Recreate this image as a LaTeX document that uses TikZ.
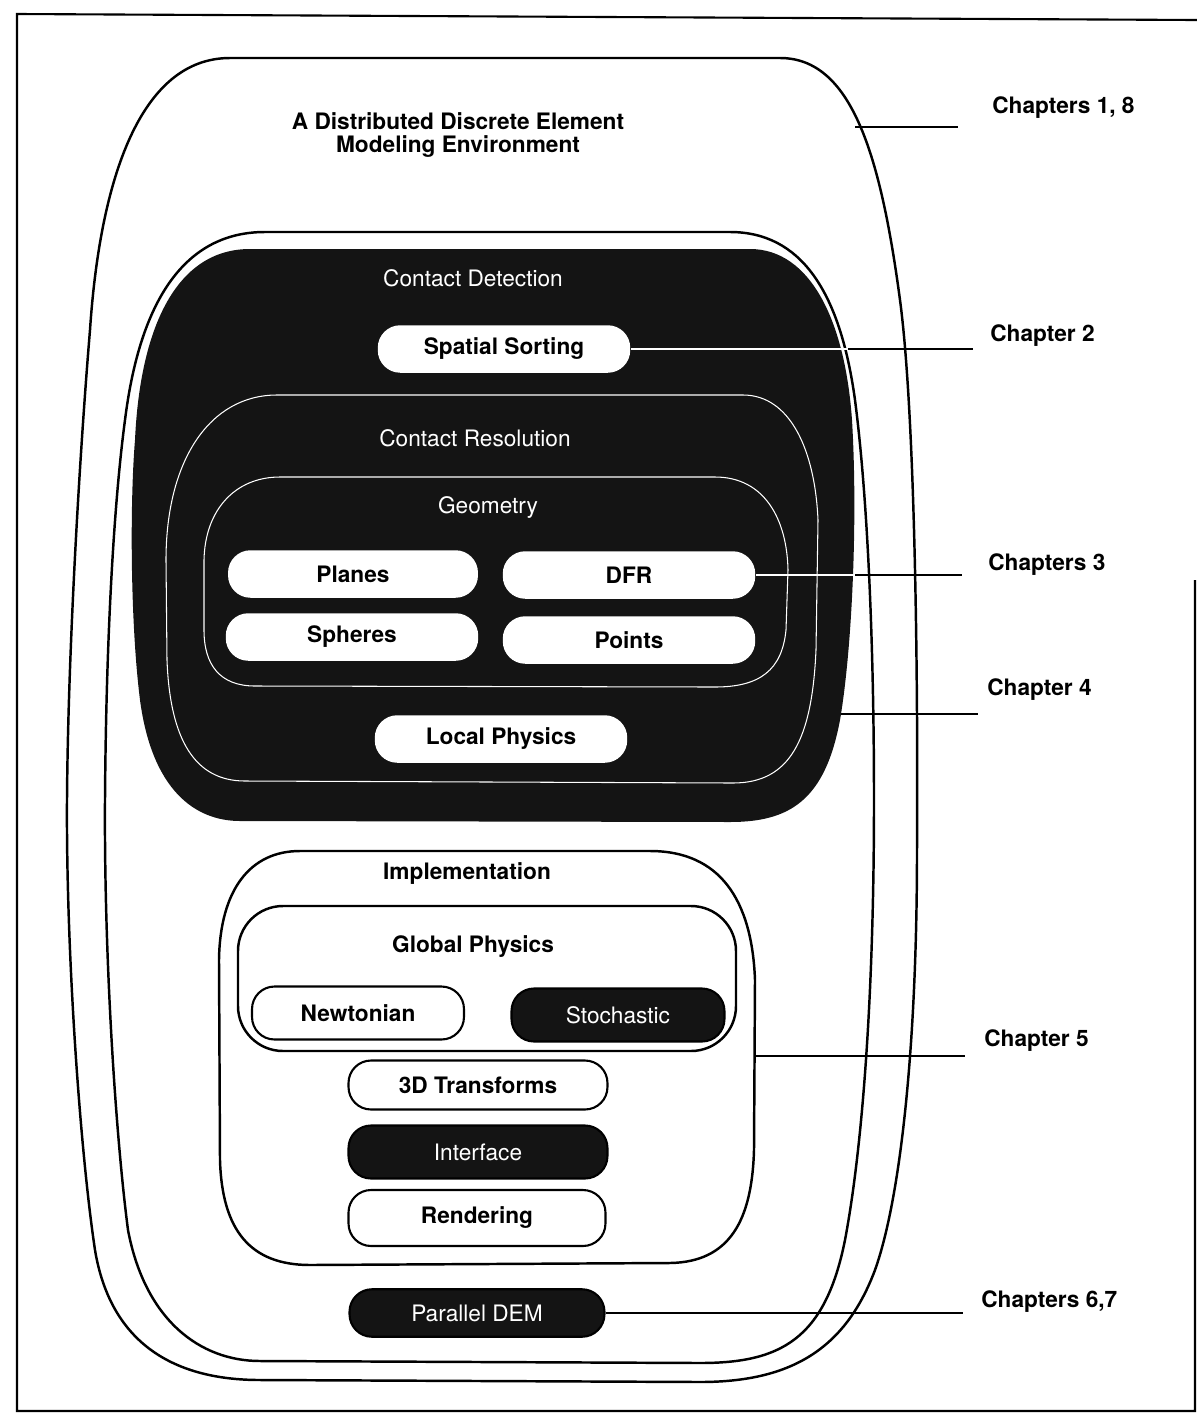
\documentclass[tikz,border=0pt]{standalone}
\usepackage{fontspec}
\setmainfont{TeX Gyre Heros}
\usetikzlibrary{positioning}
\definecolor{dark}{gray}{0.08}

\begin{document}
\begin{tikzpicture}[x=0.02cm,y=-0.02cm,
  every node/.style={font=\fontsize{12.9}{12.6}\selectfont},
  ring/.style={line width=1.4pt},
  wline/.style={draw=white, line width=0.6pt},
  leader/.style={line width=1.1pt},
  pill/.style={rounded corners=0.45cm, inner sep=0pt, minimum height=0.95cm, minimum width=5.05cm, line width=1.2pt},
  wpill/.style={pill, draw, fill=white, font=\fontsize{12.9}{15}\selectfont\bfseries},
  spill/.style={pill, fill=white, font=\fontsize{12.9}{15}\selectfont\bfseries},
  dpill/.style={pill, draw, fill=dark, text=white},
  chap/.style={anchor=west, inner sep=0pt, font=\fontsize{12.9}{15}\selectfont\bfseries},
]
\useasboundingbox (0,0) rectangle (1197,1414);
% page frame
\draw[line width=1.2pt] (1197,20) -- (17,14) -- (17,1411) -- (1195,1411) -- (1195,580);
% environment
\draw[ring] (230,58) -- (780,58) .. controls (850,58) and (880,150) .. (900,300)
  .. controls (916,420) and (918,700) .. (917,850)
  .. controls (917,1050) and (900,1200) .. (875,1270)
  .. controls (845,1350) and (790,1382) .. (700,1382) -- (260,1380)
  .. controls (170,1380) and (110,1340) .. (95,1250)
  .. controls (80,1150) and (66,950) .. (67,800)
  .. controls (68,650) and (80,450) .. (90,330)
  .. controls (100,180) and (140,58) .. cycle;
\draw[ring] (265,232) -- (730,232) .. controls (800,232) and (840,290) .. (855,400)
  .. controls (868,500) and (874,650) .. (874,800)
  .. controls (874,1000) and (862,1150) .. (845,1240)
  .. controls (825,1340) and (780,1363) .. (700,1363) -- (260,1361)
  .. controls (200,1361) and (145,1320) .. (128,1230)
  .. controls (115,1130) and (104,950) .. (105,800)
  .. controls (106,650) and (113,510) .. (125,420)
  .. controls (140,300) and (185,232) .. cycle;
% contact detection
\fill[dark] (250,249) -- (750,249) .. controls (810,249) and (845,320) .. (852,420)
  .. controls (858,520) and (852,650) .. (840,720)
  .. controls (825,800) and (790,822) .. (730,822) -- (240,821)
  .. controls (195,821) and (152,790) .. (140,700)
  .. controls (130,620) and (130,500) .. (135,440)
  .. controls (140,330) and (175,249) .. cycle;
\draw[wline] (277,395) -- (743,395) .. controls (790,395) and (815,450) .. (818,520) -- (816,650)
  .. controls (812,740) and (790,783) .. (733,783) -- (245,781)
  .. controls (195,781) and (170,740) .. (167,660) -- (166,560)
  .. controls (166,460) and (210,395) .. cycle;
\draw[wline] (280,477) -- (715,477) .. controls (765,477) and (787,520) .. (788,570) -- (786,630)
  .. controls (782,670) and (760,687) .. (715,687) -- (255,686)
  .. controls (220,686) and (204,665) .. (204,630) -- (204,560)
  .. controls (205,510) and (235,477) .. cycle;
% implementation
\draw[ring] (300,851) -- (650,851) .. controls (720,851) and (752,900) .. (755,980) -- (754,1150)
  .. controls (752,1220) and (730,1262) .. (670,1263) -- (310,1265)
  .. controls (250,1265) and (222,1230) .. (220,1160) -- (219,960)
  .. controls (220,890) and (250,851) .. cycle;
\draw[ring, rounded corners=0.9cm] (238,906) rectangle (736,1051);

\node[align=center, font=\fontsize{12.9}{12.6}\selectfont\bfseries] (title) at (458,135) {A Distributed Discrete Element\\Modeling Environment};
\node[text=white] (cdet) at (473,278) {Contact Detection};
\node[spill] (ss) at (504,349) {Spatial Sorting};
\node[text=white] (cres) at (475,438) {Contact Resolution};
\node[text=white] (geom) at (488,507) {Geometry};
\node[spill, minimum width=5cm] (planes) at (353,574) {Planes};
\node[spill] (dfr) at (629,575) {DFR};
\node[spill] (spheres) at (352,637) {Spheres};
\node[spill] (points) at (629,640) {Points};
\node[spill] (lp) at (501,739) {Local Physics};
\node[font=\fontsize{12.9}{15}\selectfont\bfseries] (impl) at (467,874) {Implementation};
\node[font=\fontsize{12.9}{15}\selectfont\bfseries] (glob) at (473,947) {Global Physics};
\node[wpill, minimum width=4.24cm, minimum height=1.06cm] (newt) at (358,1013) {Newtonian};
\node[dpill, minimum width=4.26cm, minimum height=1.06cm] (stoch) at (618,1015) {Stochastic};
\node[wpill, minimum width=5.18cm, minimum height=0.98cm] (tdt) at (478,1085) {3D Transforms};
\node[dpill, minimum width=5.18cm, minimum height=1.06cm] (intf) at (478,1152) {Interface};
\node[wpill, minimum width=5.14cm, minimum height=1.12cm] (rend) at (477,1218) {Rendering};
\node[dpill, minimum width=5.1cm] (pdem) at (477,1313) {Parallel DEM};

\node[chap] (ch18) at (992,108) {Chapters 1, 8};
\node[chap] (ch2) at (990,336) {Chapter 2};
\node[chap] (ch3) at (988,565) {Chapters 3};
\node[chap] (ch4) at (987,690) {Chapter 4};
\node[chap] (ch5) at (984,1041) {Chapter 5};
\node[chap] (ch67) at (981,1302) {Chapters 6,7};

\coordinate (e18) at (855,127);
\coordinate (t18) at (958,127);
\coordinate (e2) at (848,349);
\coordinate (t2) at (973,349);
\coordinate (e3) at (855,575);
\coordinate (t3) at (962,575);
\coordinate (e4) at (841,714);
\coordinate (t4) at (978,714);
\coordinate (e5) at (755,1056);
\coordinate (t5) at (965,1056);
\coordinate (t67) at (963,1313);
\draw[leader] (e18) -- (t18);
\draw[leader, white] (ss.east) -- (e2);
\draw[leader] (e2) -- (t2);
\draw[leader, white] (dfr.east) -- (e3);
\draw[leader] (e3) -- (t3);
\draw[leader] (e4) -- (t4);
\draw[leader] (e5) -- (t5);
\draw[leader] (pdem.east) -- (t67);
\end{tikzpicture}
\end{document}
